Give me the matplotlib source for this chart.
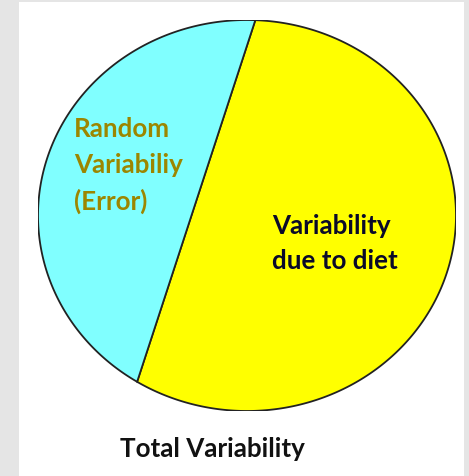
import numpy as np
import matplotlib
matplotlib.use("Agg")
import matplotlib.pyplot as plt
from matplotlib.patches import Polygon, Rectangle

# Data
components = ["Variability\ndue to diet", "Random\nVariabiliy\n(Error)"]
shares = [66, 34]
title = "Total Variability"

W, H = 469, 477
fig = plt.figure(figsize=(W / 100, H / 100), dpi=100, facecolor="#e5e5e5")
fig.add_artist(Rectangle((19 / W, 0), (464 - 19) / W, (H - 3) / H,
                         transform=fig.transFigure, facecolor="white",
                         edgecolor="none", zorder=0))

# pie area (ellipse) in pixels: x 38..456, y 21..412
ax = fig.add_axes([38 / W, (H - 412) / H, 418 / W, 391 / H])
ax.set_xlim(-1, 1)
ax.set_ylim(-1, 1)
ax.axis("off")

# chord segment for the error share
f_err = shares[1] / sum(shares)
lo, hi = 0.0, 2 * np.pi
for _ in range(60):
    mid = (lo + hi) / 2
    if (mid - np.sin(mid)) / (2 * np.pi) < f_err:
        lo = mid
    else:
        hi = mid
theta = (lo + hi) / 2
center_dir = np.deg2rad(163.0)
a0, a1 = center_dir - theta / 2, center_dir + theta / 2

t_err = np.linspace(a0, a1, 300)
t_diet = np.linspace(a1, a0 + 2 * np.pi, 500)
err_pts = np.column_stack([np.cos(t_err), np.sin(t_err)])
diet_pts = np.column_stack([np.cos(t_diet), np.sin(t_diet)])

ax.add_patch(Polygon(diet_pts, closed=True, facecolor="#ffff00",
                     edgecolor="#222222", linewidth=1.3))
ax.add_patch(Polygon(err_pts, closed=True, facecolor="#80ffff",
                     edgecolor="#222222", linewidth=1.3))

font = dict(family=["Lato", "DejaVu Sans"], fontweight="bold", fontsize=18.7)
fig.text(74 / W, 1 - 117 / H, components[1], color="#9c8600",
         ha="left", va="top", linespacing=1.58, **font)
fig.text(272 / W, 1 - 214 / H, components[0], color="#0a0a2a",
         ha="left", va="top", linespacing=1.55, **font)
fig.text(120 / W, 1 - 437 / H, title, color="#111111",
         ha="left", va="top", **font)

fig.savefig("out.png", dpi=100, facecolor=fig.get_facecolor())
